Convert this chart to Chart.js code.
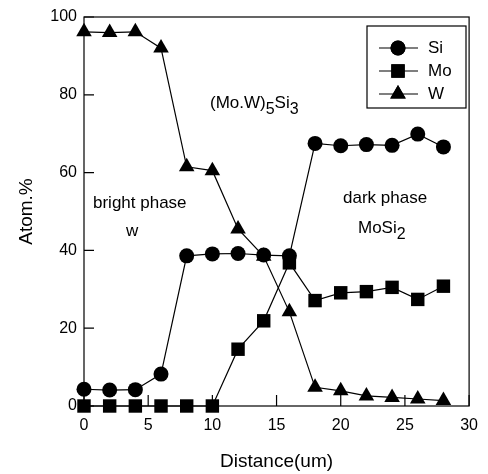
<!DOCTYPE html>
<html>
<head>
<meta charset="utf-8">
<script src="https://cdn.jsdelivr.net/npm/chart.js@4"></script>
<style>
  html, body { margin: 0; padding: 0; background: #fff; }
  #wrap { width: 488px; height: 474px; position: relative; }
</style>
</head>
<body>
<div id="wrap"><canvas id="chart"></canvas></div>
<script>
// distance (um) of each measurement point
const distance = [0, 2, 4, 6, 8, 10, 12, 14, 16, 18, 20, 22, 24, 26, 28];
// atom % per element
const siValues = [4.3, 4.1, 4.2, 8.2, 38.6, 39.1, 39.2, 38.8, 38.6, 67.5, 66.9, 67.2, 67.0, 69.9, 66.6];
const moValues = [0, 0, 0, 0, 0, 0, 14.6, 21.9, 36.8, 27.1, 29.1, 29.4, 30.5, 27.4, 30.8];
const wValues  = [96.2, 96.0, 96.2, 92.0, 61.5, 60.5, 45.5, 38.5, 24.2, 4.8, 3.9, 2.6, 2.2, 1.8, 1.4];
const xTicks = [0, 5, 10, 15, 20, 25, 30];
const yTicks = [0, 20, 40, 60, 80, 100];

const FONT = "'Liberation Sans', Arial, sans-serif";

const series = [
	{ label: 'Si', data: siValues, pointStyle: 'circle', radius: 7.5 },
	{ label: 'Mo', data: moValues, pointStyle: 'rect', radius: 9.5 },
	{ label: 'W', data: wValues, pointStyle: 'triangle', radius: 9 },
];

// frame, inward ticks, in-plot legend and phase notes
const decorations = {
	id: 'decorations',
	afterDatasetsDraw(chart) {
		const { ctx, chartArea: a, scales } = chart;
		ctx.save();
		ctx.strokeStyle = '#000';
		ctx.lineWidth = 1.2;
		ctx.strokeRect(a.left, a.top, a.right - a.left, a.bottom - a.top);

		// inward ticks
		ctx.beginPath();
		yTicks.forEach(v => {
			const y = scales.y.getPixelForValue(v);
			ctx.moveTo(a.left, y); ctx.lineTo(a.left + 10, y);
		});
		xTicks.forEach(v => {
			const x = scales.x.getPixelForValue(v);
			ctx.moveTo(x, a.bottom); ctx.lineTo(x, a.bottom - 11);
		});
		ctx.stroke();

		// legend box
		const lx = 367, ly = 26, lw = 99, lh = 82;
		ctx.fillStyle = '#fff';
		ctx.fillRect(lx, ly, lw, lh);
		ctx.strokeRect(lx, ly, lw, lh);
		ctx.font = '17px ' + FONT;
		ctx.textBaseline = 'middle';
		chart.data.datasets.forEach((ds, i) => {
			const y = ly + 22 + i * 23;
			ctx.beginPath();
			ctx.moveTo(lx + 12, y); ctx.lineTo(lx + 51, y);
			ctx.stroke();
			ctx.fillStyle = '#000';
			Chart.helpers.drawPoint(ctx, { pointStyle: ds.pointStyle, radius: ds.pointRadius, rotation: 0, borderWidth: 0 }, lx + 31, y);
			ctx.fill();
			ctx.fillText(ds.label, lx + 61, y);
		});

		// phase notes
		const sub = (parts, x, y) => {
			parts.forEach(([t, isSub]) => {
				ctx.font = (isSub ? '16px ' : '17px ') + FONT;
				ctx.fillText(t, x, isSub ? y + 7 : y);
				x += ctx.measureText(t).width;
			});
		};
		ctx.fillStyle = '#000';
		ctx.textAlign = 'left';
		sub([['(Mo.W)', false], ['5', true], ['Si', false], ['3', true]], 210, 103);
		sub([['bright phase', false]], 93, 203);
		sub([['w', false]], 126, 231);
		sub([['dark phase', false]], 343, 198);
		sub([['MoSi', false], ['2', true]], 358, 228);
		ctx.restore();
	}
};

const datasets = series.map(s => ({
	label: s.label,
	data: distance.map((d, i) => ({ x: d, y: s.data[i] })),
	borderColor: '#000',
	backgroundColor: '#000',
	borderWidth: 1.2,
	pointStyle: s.pointStyle,
	pointRadius: s.radius,
	pointHoverRadius: s.radius,
	pointBackgroundColor: '#000',
	pointBorderWidth: 0,
	tension: 0,
	clip: false,
}));

new Chart(document.getElementById('chart'), {
	type: 'line',
	data: { datasets },
	options: {
		responsive: true,
		maintainAspectRatio: false,
		animation: false,
		events: [],
		layout: { padding: { top: 17, right: 9, left: 0, bottom: 0 } },
		plugins: { legend: { display: false }, tooltip: { enabled: false } },
		scales: {
			x: {
				type: 'linear', min: 0, max: 30,
				afterBuildTicks: s => { s.ticks = xTicks.map(v => ({ value: v })); },
				afterFit: s => { s.height = 68; },
				grid: { display: false, drawTicks: false },
				border: { display: false },
				ticks: { color: '#000', padding: 10, font: { family: FONT, size: 16 } },
				title: { display: true, text: 'Distance(um)', color: '#000', padding: { top: 0, bottom: 3 }, font: { family: FONT, size: 19, lineHeight: 1 } },
			},
			y: {
				min: 0, max: 100,
				afterBuildTicks: s => { s.ticks = yTicks.map(v => ({ value: v })); },
				afterFit: s => { s.width = 84; },
				grid: { display: false, drawTicks: false },
				border: { display: false },
				ticks: { color: '#000', padding: 7, font: { family: FONT, size: 16 } },
				title: { display: true, text: 'Atom.%', color: '#000', padding: { top: 17, bottom: 0 }, font: { family: FONT, size: 19, lineHeight: 1 } },
			},
		},
	},
	plugins: [decorations],
});
</script>
</body>
</html>
